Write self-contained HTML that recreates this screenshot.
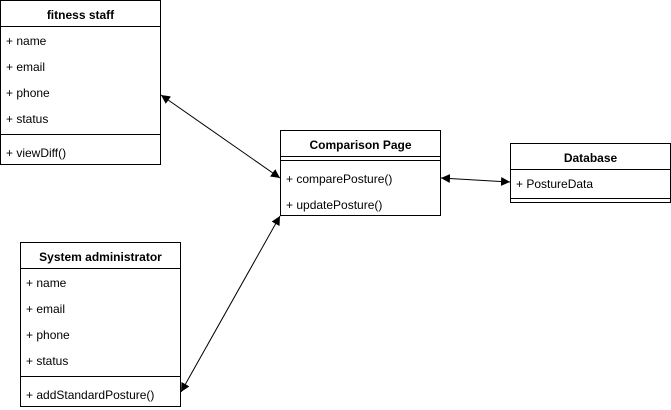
<!DOCTYPE html>
<html><head><style>html,body{margin:0;padding:0;background:#fff;}svg{display:block;}</style></head>
<body>
<svg width="671" height="410" xmlns="http://www.w3.org/2000/svg" font-family="Liberation Sans, Helvetica, Arial, sans-serif" font-size="12">
<defs>
<marker id="a" viewBox="0 0 10 10" refX="10" refY="5" markerWidth="9" markerHeight="9" markerUnits="userSpaceOnUse" orient="auto-start-reverse"><path d="M0,0 L10,5 L0,10 z" fill="#000"/></marker>
</defs>
<g fill="#fff" stroke="#000" stroke-width="1">
<rect x="0.5" y="0.5" width="160" height="164"/>
<line x1="0.5" y1="26.5" x2="160.5" y2="26.5"/>
<line x1="0.5" y1="134.5" x2="160.5" y2="134.5"/>
<rect x="20.5" y="242.5" width="160" height="164"/>
<line x1="20.5" y1="268.5" x2="180.5" y2="268.5"/>
<line x1="20.5" y1="376.5" x2="180.5" y2="376.5"/>
<rect x="280.5" y="130.5" width="160" height="85"/>
<line x1="280.5" y1="156.5" x2="440.5" y2="156.5"/>
<line x1="280.5" y1="160.5" x2="440.5" y2="160.5"/>
<rect x="510.5" y="143.5" width="160" height="59"/>
<line x1="510.5" y1="169.5" x2="670.5" y2="169.5"/>
<line x1="510.5" y1="198.5" x2="670.5" y2="198.5"/>
</g>
<g fill="#000">
<text x="80.5" y="19" text-anchor="middle" font-weight="bold">fitness staff</text>
<text x="6" y="45">+ name</text>
<text x="6" y="71">+ email</text>
<text x="6" y="97">+ phone</text>
<text x="6" y="123">+ status</text>
<text x="6" y="157">+ viewDiff()</text>
<text x="100.5" y="261" text-anchor="middle" font-weight="bold">System administrator</text>
<text x="26" y="287">+ name</text>
<text x="26" y="313">+ email</text>
<text x="26" y="339">+ phone</text>
<text x="26" y="365">+ status</text>
<text x="26" y="399">+ addStandardPosture()</text>
<text x="360.5" y="149" text-anchor="middle" font-weight="bold">Comparison Page</text>
<text x="286" y="183">+ comparePosture()</text>
<text x="286" y="209">+ updatePosture()</text>
<text x="590.5" y="162" text-anchor="middle" font-weight="bold">Database</text>
<text x="516" y="188">+ PostureData</text>
</g>
<g stroke="#000" stroke-width="1" fill="none">
<line x1="161" y1="95" x2="280" y2="178" marker-start="url(#a)" marker-end="url(#a)"/>
<line x1="441" y1="178" x2="510" y2="182" marker-start="url(#a)" marker-end="url(#a)"/>
<line x1="181" y1="392" x2="280" y2="216" marker-start="url(#a)" marker-end="url(#a)"/>
</g>
</svg>
</body></html>
